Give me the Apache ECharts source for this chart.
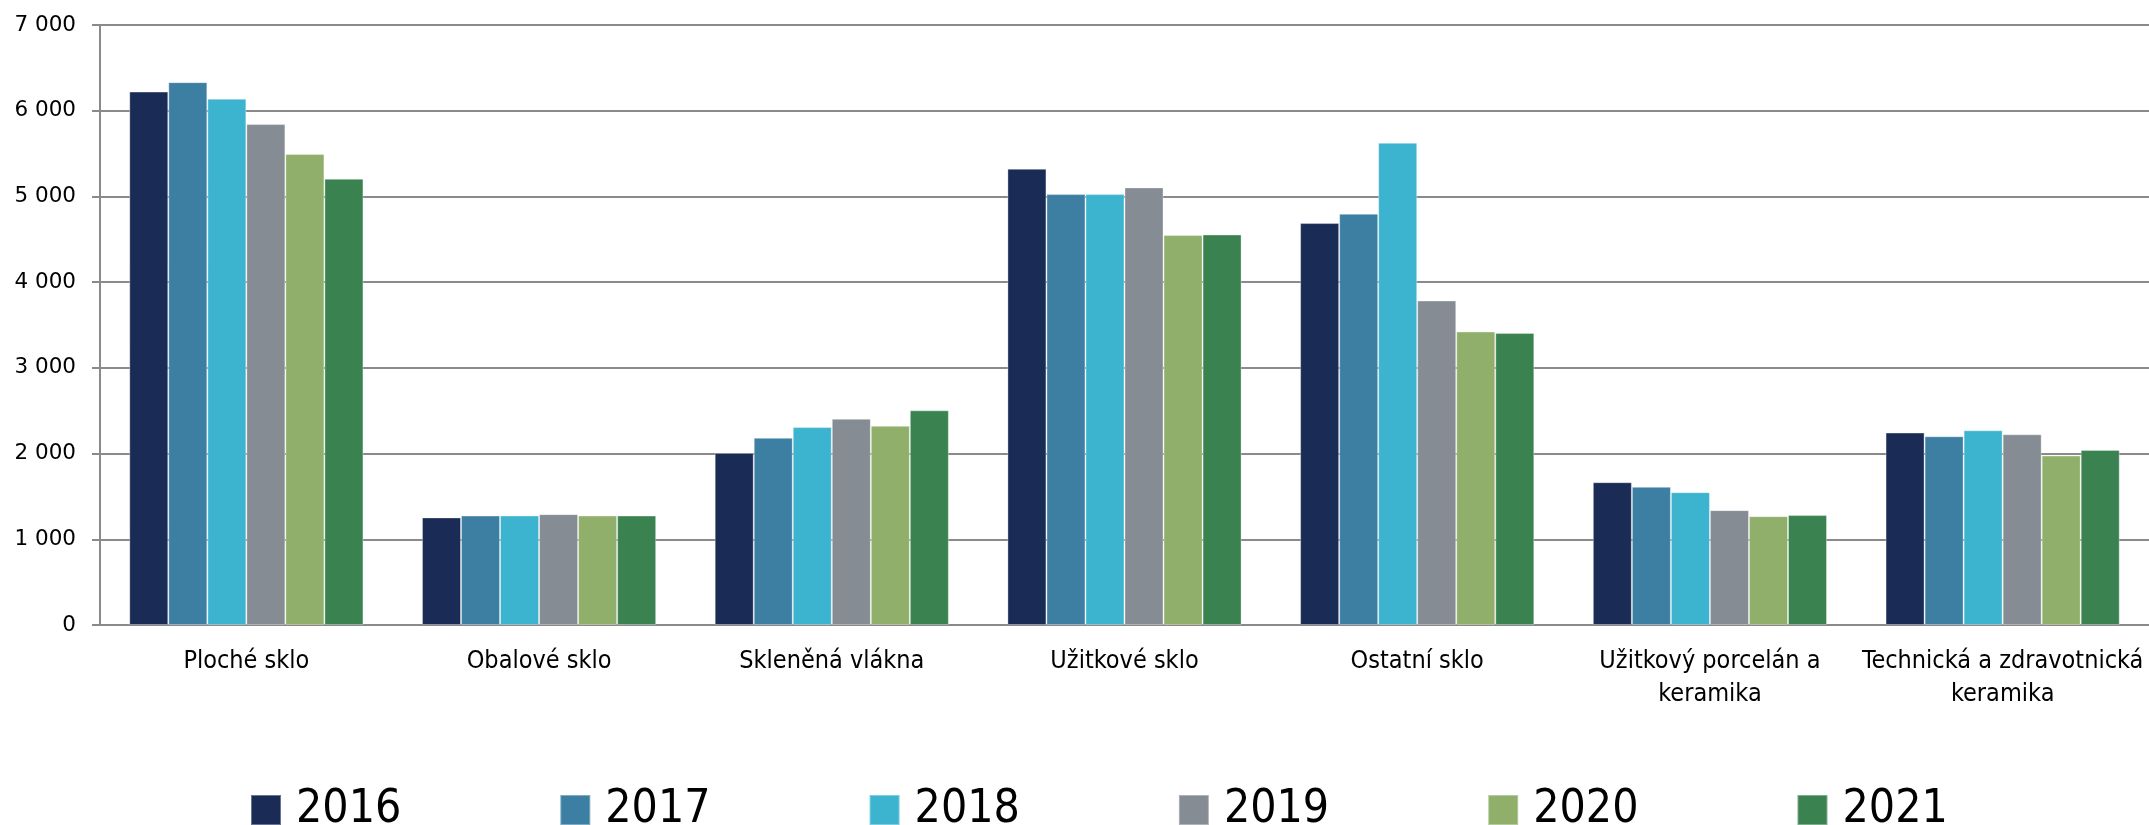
<!DOCTYPE html>
<html>
<head>
<meta charset="utf-8">
<script src="https://cdn.jsdelivr.net/npm/echarts@6/dist/echarts.min.js"></script>
<style>
  html, body { margin: 0; padding: 0; background: #fff; }
  #chart { width: 2149px; height: 825px; }
</style>
</head>
<body>
<div id="chart"></div>
<script>
const categories = [
  "Ploché sklo",
  "Obalové sklo",
  "Skleněná vlákna",
  "Užitkové sklo",
  "Ostatní sklo",
  "Užitkový porcelán a\nkeramika",
  "Technická a zdravotnická\nkeramika",
];
const years = ["2016", "2017", "2018", "2019", "2020", "2021"];
const colors = ["#1a2b55", "#3d7fa3", "#3db4cf", "#858c93", "#8faf6a", "#3a8351"];

const v2016 = [6223, 1255, 2008, 5323, 4689, 1666, 2245];
const v2017 = [6333, 1277, 2184, 5027, 4798, 1612, 2202];
const v2018 = [6141, 1277, 2309, 5027, 5626, 1550, 2272];
const v2019 = [5844, 1293, 2406, 5105, 3786, 1340, 2225];
const v2020 = [5496, 1277, 2324, 4549, 3424, 1270, 1977];
const v2021 = [5207, 1277, 2504, 4556, 3408, 1282, 2043];
const values = [v2016, v2017, v2018, v2019, v2020, v2021];

const labelFont = "'DejaVu Sans Condensed', sans-serif";

const chart = echarts.init(document.getElementById("chart"));
chart.setOption({
  animation: false,
  legend: {
    left: 245,
    top: 782,
    itemWidth: 30,
    itemHeight: 30,
    itemGap: 158,
    icon: "rect",
    data: years,
    textStyle: {
      fontFamily: labelFont,
      fontSize: 46,
      color: "#000",
      padding: [0, 0, 0, 10],
    },
  },
  // plot runs past the right edge, as in the source image
  grid: { left: 100, top: 25, width: 2062, height: 600 },
  xAxis: {
    type: "category",
    data: categories,
    axisLine: { lineStyle: { color: "#8a8a8a", width: 2 } },
    axisTick: { length: 10, lineStyle: { color: "#8a8a8a", width: 2 } },
    axisLabel: {
      interval: 0,
      margin: 20,
      fontFamily: labelFont,
      fontSize: 25,
      lineHeight: 33,
      color: "#000",
    },
  },
  yAxis: {
    type: "value",
    min: 0,
    max: 7000,
    interval: 1000,
    axisLine: { show: true, lineStyle: { color: "#8a8a8a", width: 2 } },
    axisTick: { show: true, length: 8, lineStyle: { color: "#8a8a8a", width: 2 } },
    splitLine: { lineStyle: { color: "#8a8a8a", width: 2 } },
    axisLabel: {
      margin: 24,
      fontFamily: "'DejaVu Sans', sans-serif",
      fontSize: 21.5,
      color: "#000",
      formatter: (v) => String(v).replace(/\B(?=(\d{3})+(?!\d))/g, " "),
    },
  },
  series: years.map((y, i) => ({
    name: y,
    type: "bar",
    data: values[i],
    barGap: 0,
    barCategoryGap: "20%",
    itemStyle: {
      color: colors[i],
      borderColor: "rgba(255,255,255,0.35)",
      borderWidth: 1,
    },
  })),
});
</script>
</body>
</html>
